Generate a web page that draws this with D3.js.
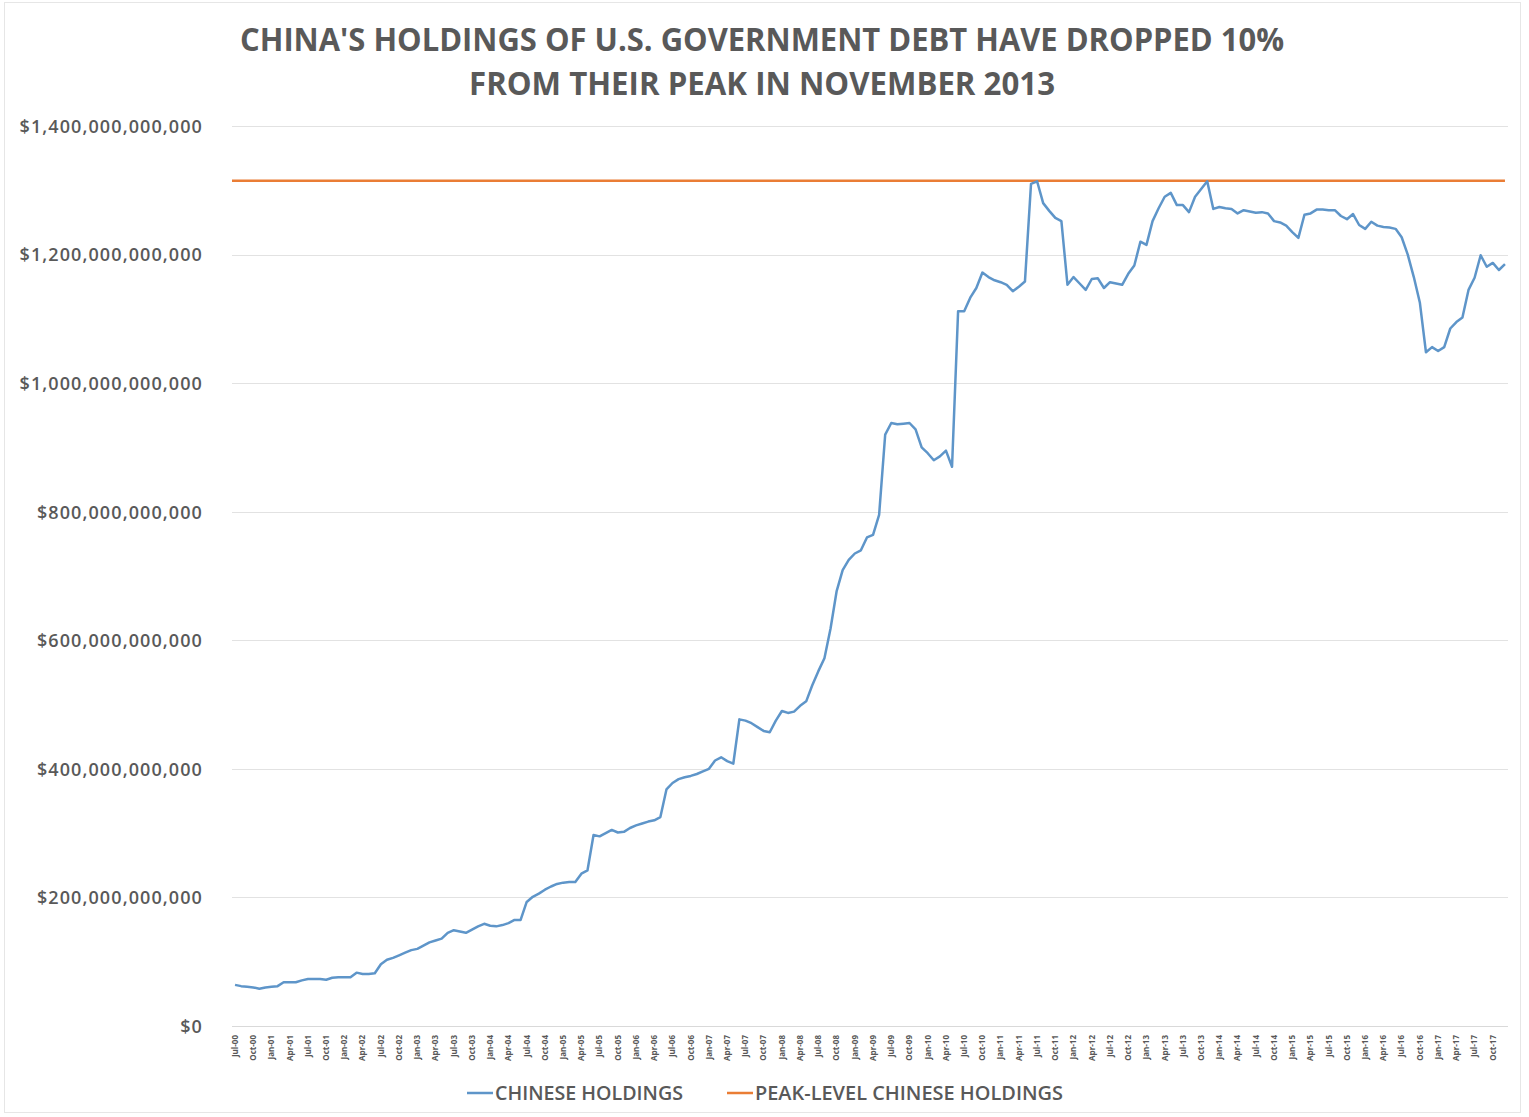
<!DOCTYPE html>
<html>
<head>
<meta charset="utf-8">
<script src="https://cdn.jsdelivr.net/npm/d3@7"></script>
<style>
  html, body { margin: 0; padding: 0; background: #ffffff; }
  svg { display: block; font-family: "Open Sans", "DejaVu Sans", sans-serif; }
</style>
</head>
<body>
<svg id="chart" width="1529" height="1117"></svg>
<script>
// ---------------- DATA ----------------
const titleLines = ["CHINA'S HOLDINGS OF U.S. GOVERNMENT DEBT HAVE DROPPED 10%",
                    "FROM THEIR PEAK IN NOVEMBER 2013"];
const seriesNames = ["CHINESE HOLDINGS", "PEAK-LEVEL CHINESE HOLDINGS"];
const monthNames = ["Jan","Feb","Mar","Apr","May","Jun","Jul","Aug","Sep","Oct","Nov","Dec"];
const startYear = 2000, startMonth = 6; // Jul-00
// Chinese holdings of U.S. Treasuries, billions of USD, monthly Jul-00 .. Dec-17
const holdingsBn = [
  64, 62, 61, 60, 58, 60,                                   // 2000 Jul-Dec
  61, 62, 68, 68, 68, 71, 73, 73, 73, 72, 75, 76,           // 2001
  76, 76, 83, 81, 81, 82, 96, 103, 106, 110, 114, 118,      // 2002
  120, 125, 130, 133, 136, 145, 149, 147, 145, 150, 155, 159, // 2003
  156, 155, 157, 160, 165, 165, 193, 201, 206, 212, 217, 221, // 2004
  223, 224, 224, 237, 242, 297, 295, 300, 305, 301, 302, 308, // 2005
  312, 315, 318, 320, 325, 368, 378, 384, 387, 389, 392, 396, // 2006
  400, 413, 418, 412, 408, 477, 475, 471, 465, 459, 457, 475, // 2007
  490, 487, 489, 498, 505, 530, 552, 572, 618, 676, 709, 725, // 2008
  735, 740, 760, 764, 795, 920, 938, 936, 937, 938, 928, 900, // 2009
  891, 880, 886, 895, 870, 1112, 1112, 1133, 1148, 1172, 1165, 1160, // 2010
  1157, 1153, 1143, 1150, 1158, 1310, 1314, 1280, 1268, 1257, 1252, 1153, // 2011
  1165, 1155, 1145, 1162, 1163, 1148, 1157, 1155, 1153, 1170, 1183, 1220, // 2012
  1215, 1252, 1272, 1290, 1296, 1277, 1277, 1266, 1290, 1302, 1314, 1271, // 2013
  1274, 1272, 1271, 1264, 1269, 1267, 1265, 1266, 1264, 1252, 1250, 1245, // 2014
  1235, 1226, 1262, 1264, 1270, 1270, 1269, 1269, 1260, 1255, 1263, 1246, // 2015
  1240, 1251, 1245, 1243, 1242, 1240, 1227, 1200, 1165, 1125, 1048, 1056, // 2016
  1050, 1056, 1085, 1095, 1102, 1145, 1164, 1199, 1181, 1187, 1176, 1185  // 2017
];
const peakBn = 1315; // peak level, November 2013
const yTicks = [0, 200e9, 400e9, 600e9, 800e9, 1000e9, 1200e9, 1400e9];
const labelEvery = 3;

// categories (month labels) built from the start month
const categories = holdingsBn.map((_, i) => {
  const m = startMonth + i;
  const yr = startYear + Math.floor(m / 12);
  return monthNames[m % 12] + "-" + String(yr % 100).padStart(2, "0");
});

// ---------------- LAYOUT ----------------
const svg = d3.select("#chart");
const plot = { left: 232, right: 1508, top: 126, bottom: 1026 };
const textColor = "#595959";
const blue = "#5e95c9";
const orange = "#ea7d35";

// outer frame
svg.append("rect").attr("x", 4.5).attr("y", 2.5).attr("width", 1516).attr("height", 1110)
  .attr("fill", "#fff").attr("stroke", "#e6e6e6").attr("stroke-width", 1);

const x = d3.scaleBand().domain(categories).range([plot.left, plot.right]).padding(0);
const xc = d => x(d) + x.bandwidth() / 2;
const y = d3.scaleLinear().domain([0, 1.4e12]).range([plot.bottom, plot.top]);

// gridlines
svg.append("g").selectAll("line").data(yTicks.filter(v => v > 0)).join("line")
  .attr("x1", plot.left).attr("x2", plot.right)
  .attr("y1", d => Math.round(y(d)) + 0.5).attr("y2", d => Math.round(y(d)) + 0.5)
  .attr("stroke", "#e2e2e2").attr("stroke-width", 1.2);

// y axis labels
const yAxis = d3.axisLeft(y).tickValues(yTicks).tickSize(0).tickPadding(0)
  .tickFormat(v => "$" + d3.format(",.0f")(v));
const gy = svg.append("g").attr("transform", `translate(${203},0)`).call(yAxis);
gy.select(".domain").remove();
gy.selectAll("text")
  .attr("fill", textColor).attr("font-size", 18).attr("font-weight", 600)
  .attr("letter-spacing", "1.1px")
  .attr("font-family", "'Open Sans', sans-serif")
  .attr("dy", "0.35em");

// x axis
const tickCats = categories.filter((_, i) => i % labelEvery === 0);
const xAxis = d3.axisBottom(x).tickValues(tickCats).tickSize(0).tickPadding(0);
const gx = svg.append("g").attr("transform", `translate(0,${plot.bottom})`).call(xAxis);
gx.select(".domain").attr("stroke", "#d9d9d9").attr("stroke-width", 1.2)
  .attr("d", `M${plot.left},0.5H${plot.right}`);
gx.selectAll(".tick text")
  .attr("fill", textColor).attr("font-size", 8).attr("font-weight", 700)
  .attr("font-family", "'Open Sans', sans-serif")
  .attr("text-anchor", "end")
  .attr("transform", "translate(0,9) rotate(-90)")
  .attr("x", 0).attr("y", 0).attr("dy", "0.35em");

// peak line (constant level across categories)
const peakPts = [categories[0], categories[categories.length - 1]];
svg.append("path")
  .attr("d", d3.line().x((d, i) => i === 0 ? plot.left : xc(d)).y(() => y(peakBn * 1e9))(peakPts))
  .attr("fill", "none").attr("stroke", orange).attr("stroke-width", 2.5);

// holdings line
const line = d3.line().x((d, i) => xc(categories[i])).y(d => y(d * 1e9));
svg.append("path").datum(holdingsBn).attr("d", line)
  .attr("fill", "none").attr("stroke", blue).attr("stroke-width", 2.5)
  .attr("stroke-linejoin", "round");

// title
const titleG = svg.append("g").attr("fill", textColor)
  .attr("font-family", "'Open Sans', sans-serif").attr("font-weight", 700)
  .attr("font-size", 33).attr("text-anchor", "middle");
const titleWidths = [1044, 586];
titleLines.forEach((t, i) => {
  titleG.append("text").attr("x", 762).attr("y", 51 + i * 44)
    .attr("textLength", titleWidths[i]).attr("lengthAdjust", "spacingAndGlyphs")
    .text(t);
});

// legend
const legendItems = [
  { name: seriesNames[0], color: blue, x: 467, w: 188 },
  { name: seriesNames[1], color: orange, x: 727, w: 308 }
];
const lg = svg.append("g");
legendItems.forEach(it => {
  lg.append("line").attr("x1", it.x).attr("x2", it.x + 26)
    .attr("y1", 1093).attr("y2", 1093).attr("stroke", it.color).attr("stroke-width", 2.5);
  lg.append("text").attr("x", it.x + 28).attr("y", 1100)
    .attr("fill", textColor).attr("font-size", 19).attr("font-weight", 600)
    .attr("font-family", "'Open Sans', sans-serif")
    .attr("textLength", it.w).attr("lengthAdjust", "spacingAndGlyphs")
    .text(it.name);
});
</script>
</body>
</html>
